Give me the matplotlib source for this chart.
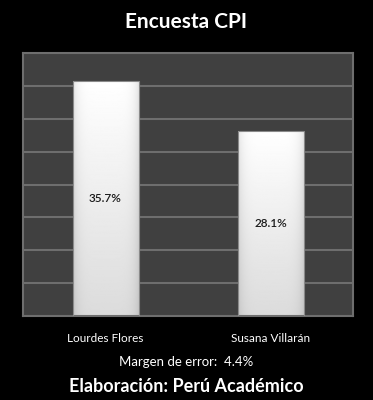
import numpy as np
from matplotlib import pyplot as plt

candidates = ["Lourdes Flores", "Susana Villarán"]
values = [35.7, 28.1]
value_labels = ["35.7%", "28.1%"]
y_ticks = [0, 5, 10, 15, 20, 25, 30, 35, 40]

plt.rcParams["font.family"] = ["Lato", "DejaVu Sans"]

fig = plt.figure(figsize=(3.73, 4.00), dpi=100, facecolor="black")
ax = fig.add_axes([23 / 373, 1 - 316 / 400, 330 / 373, 263 / 400])
ax.set_facecolor("#404040")

x = np.arange(len(candidates))
bars = ax.bar(x, values, width=0.4, color="none", edgecolor="#8a8a8a",
              linewidth=0.8, zorder=3)

# vertical white-to-grey gradient inside each bar
grad = np.linspace(0.86, 1.0, 256).reshape(-1, 1)
for rect in bars:
    bx, by = rect.get_x(), rect.get_y()
    w, h = rect.get_width(), rect.get_height()
    horiz = 1 - 0.10 * np.abs(np.linspace(-1, 1, 64)) ** 6
    img = grad * horiz.reshape(1, -1)
    im = ax.imshow(img, cmap="gray", vmin=0, vmax=1, aspect="auto",
                   extent=(bx, bx + w, by, by + h), origin="lower", zorder=2)
    im.set_clip_path(rect)

for xi, v, lab in zip(x, values, value_labels):
    ax.text(xi, v / 2, lab, ha="center", va="center", fontsize=8.5,
            color="#1a1a1a", fontweight="semibold", zorder=4)

ax.set_xlim(-0.5, 1.5)
ax.set_ylim(0, 40)
ax.set_yticks(y_ticks)
ax.set_yticklabels([])
ax.set_xticks(x)
ax.set_xticklabels(candidates, color="white", fontsize=8.5)
ax.tick_params(length=0, pad=12)
ax.grid(axis="y", color="#6e6e6e", linewidth=1.5, zorder=1)
for s in ax.spines.values():
    s.set_color("#6e6e6e")
    s.set_linewidth(1.5)

fig.text(0.5, 1 - 22 / 400, "Encuesta CPI", ha="center", va="center",
         color="white", fontsize=15, fontweight="bold")
fig.text(0.5, 1 - 362 / 400, "Margen de error:  4.4%", ha="center",
         va="center", color="white", fontsize=9.5)
fig.text(0.5, 1 - 386 / 400, "Elaboración: Perú Académico", ha="center",
         va="center", color="white", fontsize=13, fontweight="bold")

fig.savefig("out.png", dpi=100, facecolor="black")
